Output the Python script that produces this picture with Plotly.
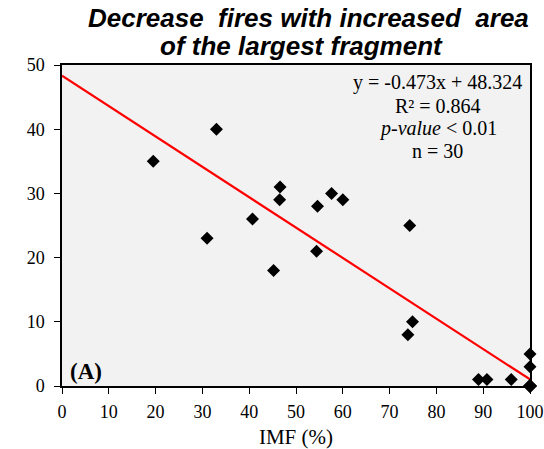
import plotly.graph_objects as go

imf = [19.5, 33, 31, 40.7, 45.2, 46.6, 46.5, 54.4, 54.6, 57.6, 60, 74.3, 74.9, 73.9, 89, 90.8, 96, 100, 100,
       100, 100, 100, 100, 100, 100, 100, 100, 100, 100, 100]
fires = [35, 40, 23, 26, 18, 31, 29, 21, 28, 30, 29, 25, 10, 8, 1, 1, 1, 5, 3,
         0, 0, 0, 0, 0, 0, 0, 0, 0, 0, 0]
slope = -0.473
intercept = 48.324
fit_x = [0, 100]
fit_y = [intercept + slope * v for v in fit_x]
x_ticks = list(range(0, 101, 10))
y_ticks = list(range(0, 51, 10))

serif = "Liberation Serif, Times New Roman, serif"
sans = "Liberation Sans, Arial, sans-serif"

fig = go.Figure()
fig.add_trace(go.Scatter(x=fit_x, y=fit_y, mode="lines",
                         line=dict(color="#ff0000", width=2.2), showlegend=False))
fig.add_trace(go.Scatter(x=imf, y=fires, mode="markers",
                         marker=dict(symbol="diamond", size=10, color="black"),
                         cliponaxis=False, showlegend=False))

fig.update_layout(
    width=544, height=449,
    margin=dict(l=62, r=14, t=65, b=63),
    paper_bgcolor="white", plot_bgcolor="#f2f2f2",
    xaxis=dict(range=[0, 100], tickvals=x_ticks, showgrid=False, zeroline=False,
               showline=True, linecolor="black", linewidth=1.5, mirror=True,
               ticks="outside", ticklen=6, tickcolor="black", automargin=False,
               ticklabelstandoff=3,
               tickfont=dict(family=serif, size=18, color="black"),
               title=dict(text="IMF (%)", font=dict(family=serif, size=21, color="black"), standoff=9)),
    yaxis=dict(range=[0, 50], tickvals=y_ticks, showgrid=False, zeroline=False,
               showline=True, linecolor="black", linewidth=1.5, mirror=True,
               ticks="outside", ticklen=6, tickcolor="black", automargin=False,
               ticklabelstandoff=6,
               tickfont=dict(family=serif, size=18, color="black")),
)

# title lines
title_lines = [("<b><i>Decrease  fires with increased  area</i></b>", 0.526, 1.146),
               ("<b><i>of the largest fragment</i></b>", 0.511, 1.059)]
for txt, xp, yp in title_lines:
    fig.add_annotation(text=txt, xref="paper", yref="paper", x=xp, y=yp,
                       xanchor="center", yanchor="middle", showarrow=False,
                       font=dict(family=sans, size=26, color="black"))

stats = [("y = -0.473x + 48.324", 0.944), ("R² = 0.864", 0.872),
         ("<i>p-value</i> < 0.01", 0.801), ("n = 30", 0.732)]
for txt, yp in stats:
    fig.add_annotation(text=txt, xref="paper", yref="paper", x=0.803, y=yp,
                       xanchor="center", yanchor="middle", showarrow=False,
                       font=dict(family=serif, size=20, color="black"))

fig.add_annotation(text="<b>(A)</b>", xref="paper", yref="paper",
                   x=0.013, y=0.044, xanchor="left", yanchor="middle", showarrow=False,
                   font=dict(family=serif, size=23, color="black"))

fig.write_html("out.html")
